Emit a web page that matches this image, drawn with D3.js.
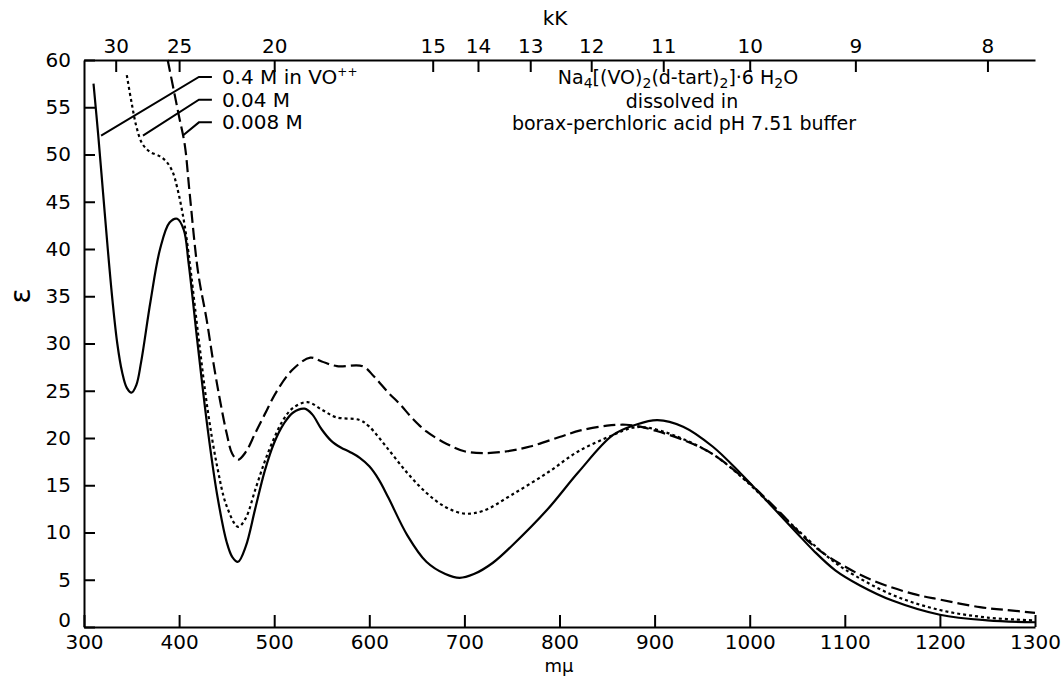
<!DOCTYPE html>
<html lang="en">
<head>
    <meta charset="utf-8">
    <title>Absorption spectrum</title>
    <script src="https://d3js.org/d3.v7.min.js"></script>
    <style>
        body {
            margin: 0;
            background: white;
        }

        svg text {
            font-family: "DejaVu Sans", sans-serif;
            font-size: 20px;
            fill: black;
        }

        .axis path, .axis line {
            stroke: black;
            stroke-width: 2px;
        }

        .curve {
            fill: none;
            stroke: black;
            stroke-width: 2.2px;
        }
    </style>
</head>
<body>
<script>

    var w = 1064;
    var h = 677;

    // wavelength (mu) ticks and kK ticks
    var nmTicks = [300, 400, 500, 600, 700, 800, 900, 1000, 1100, 1200, 1300];
    var kkTicks = [30, 25, 20, 15, 14, 13, 12, 11, 10, 9, 8];
    var epsTicks = [0, 5, 10, 15, 20, 25, 30, 35, 40, 45, 50, 55, 60];

    // 0.4 M in VO++ (solid)
    var solidNm  = [310, 315, 320, 325, 330, 335, 340, 345, 350, 355, 360, 370, 380, 390, 398, 405, 410, 420, 430, 440, 450, 456, 462, 470, 480, 490, 500, 510, 520, 532, 540, 550, 560, 570, 580, 590, 600, 610, 620, 640, 660, 680, 695, 710, 730, 750, 787, 820, 856, 880, 903, 930, 961, 990, 1024, 1050, 1067, 1090, 1116, 1150, 1200, 1250, 1300];
    var solidEps = [57.5, 52, 46, 40, 34.5, 30, 27, 25.3, 24.8, 25.6, 28, 34.5, 40, 42.8, 43.2, 42, 38.5, 29.5, 21, 14, 9, 7.4, 6.9, 8.5, 12.5, 16.5, 19.5, 21.5, 22.7, 23.1, 22.5, 20.9, 19.7, 19, 18.5, 17.9, 17, 15.6, 13.7, 9.7, 6.9, 5.6, 5.2, 5.6, 6.8, 8.6, 12.4, 16.4, 20.3, 21.4, 21.9, 21.2, 19.1, 16.3, 12.7, 9.9, 8.1, 6, 4.4, 2.8, 1.3, 0.7, 0.5];

    // 0.04 M (dotted)
    var dotNm  = [345, 350, 355, 361, 369, 380, 387, 393, 398, 405, 410, 420, 430, 440, 450, 462, 470, 480, 490, 500, 510, 520, 535, 550, 565, 590, 600, 620, 640, 660, 680, 700, 720, 750, 787, 820, 856, 877, 892, 920, 961, 990, 1030, 1050, 1080, 1100, 1150, 1200, 1250, 1300];
    var dotEps = [58.4, 55.5, 53, 51.2, 50.3, 49.8, 49.2, 48.2, 46.5, 43, 39.5, 31, 23, 17, 12.8, 10.6, 11.5, 14.5, 17.5, 20, 22, 23.2, 23.8, 23, 22.2, 21.9, 21.2, 18.8, 16.3, 14.2, 12.7, 12, 12.3, 14, 16.3, 18.6, 20.3, 21.1, 21.1, 20.3, 18.3, 16, 12.2, 10.3, 7.6, 6.1, 3.4, 1.8, 1.0, 0.7];

    // 0.008 M (dashed)
    var dashNm  = [388, 395, 400, 406, 411, 420, 429, 436, 443, 450, 456, 462, 470, 480, 490, 503, 520, 538, 550, 566, 593, 605, 620, 632, 646, 660, 681, 700, 720, 745, 769, 800, 822, 850, 870, 885, 900, 930, 961, 1000, 1030, 1067, 1100, 1130, 1172, 1200, 1242, 1270, 1300];
    var dashEps = [60, 56.5, 54, 51, 46, 37.5, 32.5, 28, 24, 20.5, 18.3, 17.7, 18.5, 20.5, 22.5, 25, 27.3, 28.5, 28.1, 27.6, 27.6, 26.5, 24.8, 23.6, 22, 20.7, 19.4, 18.6, 18.4, 18.6, 19.1, 20.1, 20.8, 21.3, 21.4, 21.2, 20.8, 19.8, 18.3, 15.2, 12.3, 8.6, 6.4, 4.9, 3.5, 2.9, 2.1, 1.8, 1.5];

    // legend labels, label position (mu, eps) and the point the leader touches
    var legendLabels = ["0.4 M in VO", "0.04 M", "0.008 M"];
    var legendAt = [[445, 58.2], [445, 55.8], [445, 53.4]];
    var legendTo = [[318, 52], [362, 52], [404, 52]];

    var x = d3.scaleLinear().domain([300, 1300]).range([84, 1035]);
    var y = d3.scaleLinear().domain([0, 60]).range([627, 60]);

    var svg = d3.select("body")
        .append("svg")
        .attr("width", w)
        .attr("height", h);

    // axes
    svg.append("g")
        .attr("class", "axis")
        .attr("transform", "translate(0," + y(0) + ")")
        .call(d3.axisBottom(x).tickValues(nmTicks).tickFormat(d3.format("d"))
            .tickSize(-12).tickSizeOuter(0).tickPadding(8))
        .selectAll("text").style("font-size", "20px");

    svg.append("g")
        .attr("class", "axis")
        .attr("transform", "translate(" + x(300) + ",0)")
        .call(d3.axisLeft(y).tickValues(epsTicks).tickSize(-11).tickSizeOuter(0).tickPadding(13))
        .selectAll("text")
        .style("font-size", "20px")
        .attr("dy", function(d){ return d == 0 ? "-0.05em" : "0.32em"; });

    svg.append("g")
        .attr("class", "axis")
        .attr("transform", "translate(0," + y(60) + ")")
        .call(d3.axisTop(x)
            .tickValues(kkTicks.map(function(k){ return 10000 / k; }))
            .tickFormat(function(d){ return Math.round(10000 / d); })
            .tickSize(-12).tickSizeOuter(0).tickPadding(7))
        .selectAll("text").style("font-size", "20px");

    // axis titles
    svg.append("text").attr("x", 555).attr("y", 25).attr("text-anchor", "middle").text("kK");
    svg.append("text").attr("x", 559).attr("y", 672).attr("text-anchor", "middle")
        .style("font-size", "18px").text("m\u03BC");
    svg.append("text")
        .attr("transform", "translate(30,296) rotate(-90)")
        .attr("text-anchor", "middle")
        .style("font-size", "28px")
        .text("\u03B5");

    // curves
    var line = d3.line()
        .x(function(d){ return x(d[0]); })
        .y(function(d){ return y(d[1]); })
        .curve(d3.curveCatmullRom.alpha(0.5));

    var series = [
        {nm: solidNm, eps: solidEps, dash: null},
        {nm: dotNm, eps: dotEps, dash: "3,3"},
        {nm: dashNm, eps: dashEps, dash: "12,5"}
    ];

    series.forEach(function(s){
        svg.append("path")
            .datum(d3.zip(s.nm, s.eps))
            .attr("class", "curve")
            .attr("stroke-dasharray", s.dash)
            .attr("d", line);
    });

    // legend leaders
    legendLabels.forEach(function(lab, i){
        var tx = x(legendAt[i][0]), ty = y(legendAt[i][1]);
        svg.append("polyline")
            .attr("points", [[tx - 10, ty], [tx - 23, ty], [x(legendTo[i][0]), y(legendTo[i][1])]].join(" "))
            .attr("fill", "none")
            .attr("stroke", "black")
            .attr("stroke-width", 2);
        var t = svg.append("text")
            .attr("x", tx)
            .attr("y", ty + 7)
            .text(lab);
        if (i == 0) {
            t.append("tspan").attr("dy", -8).style("font-size", "12px").text("++");
        }
    });

    // compound note
    var note = svg.append("text").attr("x", 678).attr("y", 84).attr("text-anchor", "middle")
        .style("font-size", "19px");
    note.append("tspan").text("Na");
    note.append("tspan").attr("dy", 4).style("font-size", "14px").text("4");
    note.append("tspan").attr("dy", -4).text("[(VO)");
    note.append("tspan").attr("dy", 4).style("font-size", "14px").text("2");
    note.append("tspan").attr("dy", -4).text("(d-tart)");
    note.append("tspan").attr("dy", 4).style("font-size", "14px").text("2");
    note.append("tspan").attr("dy", -4).text("]\u00B76 H");
    note.append("tspan").attr("dy", 4).style("font-size", "14px").text("2");
    note.append("tspan").attr("dy", -4).text("O");

    svg.append("text").attr("x", 682).attr("y", 108).attr("text-anchor", "middle")
        .style("font-size", "19px").text("dissolved in");
    svg.append("text").attr("x", 684).attr("y", 130).attr("text-anchor", "middle")
        .style("font-size", "19px").text("borax-perchloric acid pH 7.51 buffer");

</script>
</body>
</html>
